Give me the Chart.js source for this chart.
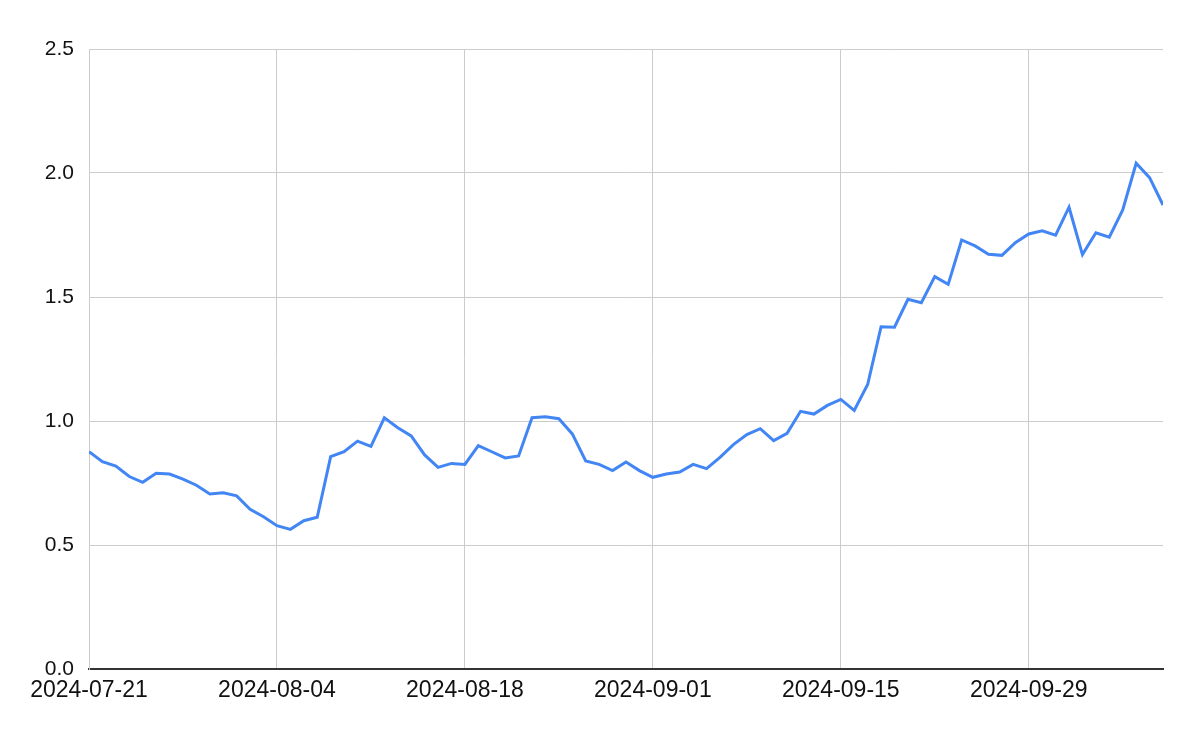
<!DOCTYPE html>
<html>
<head>
<meta charset="utf-8">
<script src="https://cdn.jsdelivr.net/npm/chart.js@4/dist/chart.umd.min.js"></script>
<style>
html,body{margin:0;padding:0;background:#fff;}
#wrap{width:1200px;height:741px;position:relative;}
</style>
</head>
<body>
<div id="wrap"><canvas id="c" width="1200" height="741"></canvas></div>
<script>
const startDate = "2024-07-21";
const values = [
0.876,0.836,0.818,0.776,0.753,0.789,0.786,0.766,0.741,0.706,
0.711,0.698,0.644,0.614,0.578,0.563,0.598,0.612,0.856,0.876,
0.919,0.898,1.013,0.973,0.940,0.863,0.813,0.829,0.825,0.901,
0.876,0.851,0.859,1.013,1.017,1.009,0.948,0.839,0.825,0.800,
0.835,0.800,0.773,0.786,0.794,0.825,0.808,0.853,0.905,0.945,
0.969,0.921,0.950,1.039,1.028,1.063,1.087,1.043,1.147,1.380,
1.378,1.491,1.477,1.582,1.551,1.730,1.706,1.672,1.668,1.719,
1.754,1.767,1.749,1.862,1.671,1.759,1.741,1.851,2.039,1.981,
1.871
];
const yTicks = [0, 0.5, 1.0, 1.5, 2.0, 2.5];
const xTickEvery = 14;

function dateLabel(i){
  const d = new Date(startDate + "T00:00:00Z");
  d.setUTCDate(d.getUTCDate() + i);
  return d.toISOString().slice(0,10);
}
const dates = values.map((v,i)=>dateLabel(i));
const points = values.map((v,i)=>({x:i, y:v}));

new Chart(document.getElementById('c'), {
  type: 'line',
  data: {
    datasets: [{
      data: points,
      borderColor: '#4285F4',
      borderWidth: 3,
      pointRadius: 0,
      tension: 0,
      fill: false
    }]
  },
  options: {
    responsive: false,
    animation: false,
    layout: { padding: { left: 0, right: 37, top: 49, bottom: 0 } },
    plugins: { legend: { display: false }, tooltip: { enabled: false } },
    scales: {
      x: {
        type: 'linear',
        min: 0,
        max: values.length - 1,
        grid: { color: '#cccccc', lineWidth: 1, drawTicks: false },
        border: { color: '#333333', width: 2 },
        ticks: {
          stepSize: xTickEvery,
          includeBounds: false,
          autoSkip: false,
          maxRotation: 0,
          padding: 8,
          color: '#111',
          font: { family: 'Liberation Sans, Arial, sans-serif', size: 23 },
          callback: (v) => dates[v] || ''
        },
        afterFit: (s) => { s.height = 72; }
      },
      y: {
        min: 0,
        max: 2.5,
        afterBuildTicks: (s) => { s.ticks = yTicks.map(v=>({value:v})); },
        grid: { color: '#cccccc', lineWidth: 1, drawTicks: false },
        border: { color: '#cccccc', width: 1 },
        ticks: {
          padding: 15,
          color: '#111',
          font: { family: 'Liberation Sans, Arial, sans-serif', size: 21 },
          callback: (v) => Number(v).toFixed(1)
        },
        afterFit: (s) => { s.width = 89; }
      }
    }
  }
});
</script>
</body>
</html>
